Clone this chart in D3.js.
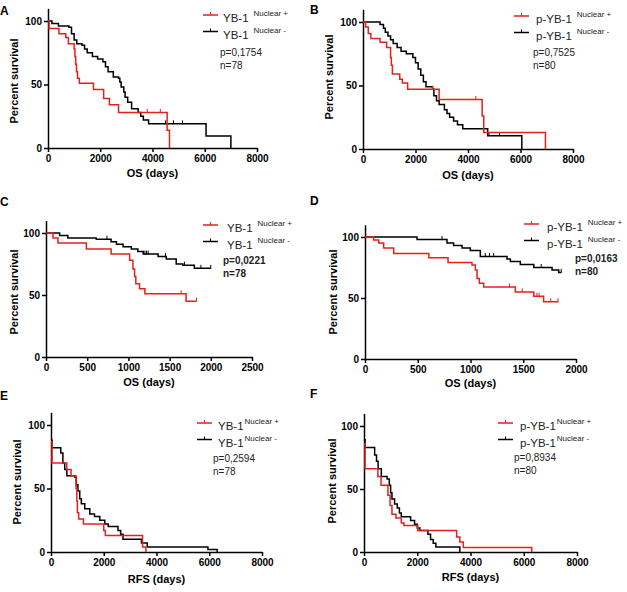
<!DOCTYPE html>
<html>
<head>
<meta charset="utf-8">
<script src="https://cdn.jsdelivr.net/npm/d3@7"></script>
<style>
body { margin: 0; background: #fff; }
svg { display: block; }
text { font-family: "Liberation Sans", Arial, sans-serif; }
</style>
</head>
<body>
<svg width="627" height="592"></svg>
<script>
// step data: [days, percent survival after the step]
var aPos = [[0,100],[40,94],[420,90],[680,87],[780,82],[1000,78],[1030,72],[1060,66],[1090,60],[1130,55],[1200,51],[1740,46],[2130,39],[2350,34],[2700,28],[4560,14],[4650,0]];
var aNeg = [[0,100],[150,98],[400,96],[800,95],[900,90],[1000,85],[1100,82],[1300,81],[1400,78],[1500,75],[1700,72],[1900,70],[2100,68],[2200,64],[2300,60],[2500,56],[2700,55],[2750,52],[2800,48],[2900,44],[2950,40],[3050,36],[3200,31],[3450,28],[3550,25],[3650,22],[3850,19],[6050,9.5],[7000,0]];
var aPosCens = [3800, 4300];
var aNegCens = [4500, 4800, 5150];

var bPos = [[0,100],[100,96],[200,91],[300,87],[650,84],[900,80],[1050,72],[1080,66],[1120,59],[1400,55],[1500,52],[1700,47],[2900,39],[4540,26],[4600,13],[6950,0]];
var bNeg = [[0,100],[650,98],[780,95],[850,92],[950,89],[1050,86],[1150,83],[1300,80],[1450,77],[1650,75],[1900,72],[2000,68],[2100,63],[2200,58],[2300,53],[2400,49],[2650,47],[2700,42],[2800,38],[2900,35],[3100,31],[3200,28],[3300,25],[3450,22],[3600,19],[3800,16],[4750,10.5],[6050,0]];
var bPosCens = [2650, 4300];
var bNegCens = [4800, 5200];

var cPos = [[0,100],[85,96],[145,92],[490,87],[790,83],[1015,78],[1055,71],[1075,65],[1090,59],[1135,55],[1200,51],[1700,45],[1826,45]];
var cNeg = [[0,100],[165,98],[265,96],[610,95],[790,93],[855,91],[935,89],[1035,87],[1115,85],[1180,83],[1360,81],[1460,79],[1580,75],[1660,74],[1800,71.5],[2000,71.5]];
var cPosCens = [1640, 1826];
var cNegCens = [740, 1200, 1220, 1240, 1450, 1680, 1880, 2000];

var dPos = [[0,100],[82,97.5],[130,95],[177,91],[272,86.5],[605,83],[787,79],[1014,77],[1046,73],[1062,66],[1084,62],[1125,59],[1425,55],[1600,51.5],[1693,47],[1830,47]];
var dNeg = [[0,100],[493,98],[777,95],[840,93],[920,91],[998,89],[1093,84],[1346,82],[1378,80],[1472,77.5],[1600,75],[1773,73],[1836,71],[1860,71]];
var dPosCens = [1370, 1490, 1630, 1650, 1760, 1830];
var dNegCens = [730, 1140, 1180, 1220, 1670, 1860];

var ePos = [[0,87],[40,70],[600,65],[760,60],[950,50],[980,40],[1000,31],[1050,26],[1230,22],[2000,17],[2060,13],[3470,4],[3600,0]];
var eNeg = [[0,88],[40,82],[370,78],[450,70],[520,65],[600,60],[900,59],[960,53],[1020,48],[1090,42],[1150,38],[1280,34],[1470,30],[1650,28],[1850,25],[2040,22],[2170,20],[2540,17],[2640,14],[2730,10],[3430,7],[3650,4],[5950,2],[6300,0]];

var fPos = [[0,86],[40,66],[520,60],[640,53],[900,45],[980,37],[1050,30],[1200,27],[1400,23],[1500,21],[2020,17],[3480,12],[3600,8],[3730,3.5],[6300,0]];
var fNeg = [[0,89],[40,83],[400,77],[470,72],[530,66],[650,60],[870,58],[950,53],[1000,47],[1050,42],[1150,38],[1250,35],[1330,31],[1400,28],[1750,25],[1900,22],[2000,19],[2100,17],[2400,14],[2500,10],[2600,7],[2700,4],[3600,0]];

var ticksLong = [0, 2000, 4000, 6000, 8000];
var ticksC = [0, 500, 1000, 1500, 2000, 2500];
var ticksD = [0, 500, 1000, 1500, 2000];
var yTicks = [0, 50, 100];

var RED = '#e3211c';
var svg = d3.select('svg');

var panels = [
  {id:'A', pos:aPos, neg:aNeg, pc:aPosCens, nc:aNegCens, xt:ticksLong, xr:[48,257], y0:148, y100:21,
   title:'OS (days)', tY:177, yt:[18,81], mk:'YB-1', p:'p=0,1754', n:'n=78', bold:false,
   lx:203, ly:15, tx:223, gap:5, px:220, py:56, let:[0,15]},
  {id:'B', pos:bPos, neg:bNeg, pc:bPosCens, nc:bNegCens, xt:ticksLong, xr:[363,573], y0:149, y100:22,
   title:'OS (days)', tY:179, yt:[333,77], mk:'p-YB-1', p:'p=0,7525', n:'n=80', bold:false,
   lx:514, ly:16, tx:536, gap:5, px:533, py:56, let:[310,14]},
  {id:'C', pos:cPos, neg:cNeg, pc:cPosCens, nc:cNegCens, xt:ticksC, xr:[46,252], y0:357, y100:233,
   title:'OS (days)', tY:386, yt:[18,292], mk:'YB-1', p:'p=0,0221', n:'n=78', bold:true,
   lx:203, ly:225, tx:227, gap:5, px:223, py:264, let:[0,206]},
  {id:'D', pos:dPos, neg:dNeg, pc:dPosCens, nc:dNegCens, xt:ticksD, xr:[365,576], y0:359, y100:237,
   title:'OS (days)', tY:387, yt:[337,292], mk:'p-YB-1', p:'p=0,0163', n:'n=80', bold:true,
   lx:524, ly:224, tx:547, gap:5, px:575, py:262, let:[310,205]},
  {id:'E', pos:ePos, neg:eNeg, pc:[], nc:[], xt:ticksLong, xr:[51,262], y0:552, y100:425,
   title:'RFS (days)', tY:583, yt:[21,482], mk:'YB-1', p:'p=0,2594', n:'n=78', bold:false,
   lx:197, ly:423, tx:218, gap:1, px:213, py:462, let:[0,400]},
  {id:'F', pos:fPos, neg:fNeg, pc:[], nc:[], xt:ticksLong, xr:[364,577], y0:552, y100:426,
   title:'RFS (days)', tY:581, yt:[336,481], mk:'p-YB-1', p:'p=0,8934', n:'n=80', bold:false,
   lx:498, ly:423, tx:520, gap:1, px:514, py:461, let:[310,398]}
];

function survAt(data, t) {
  var i = d3.bisector(function(d) { return d[0]; }).right(data, t) - 1;
  return data[Math.max(i, 0)][1];
}

panels.forEach(function(P) {
  var xMax = P.xt[P.xt.length - 1];
  var x = d3.scaleLinear().domain([0, xMax]).range(P.xr);
  var y = d3.scaleLinear().domain([0, 100]).range([P.y0, P.y100]);
  var yTop = y(110);
  var g = svg.append('g');

  // axes
  var xa = g.append('g')
    .attr('transform', 'translate(0,' + P.y0 + ')')
    .call(d3.axisBottom(x).tickValues(P.xt).tickSize(4).tickSizeOuter(0).tickFormat(d3.format('d')));
  var ya = g.append('g')
    .attr('transform', 'translate(' + P.xr[0] + ',0)')
    .call(d3.axisLeft(d3.scaleLinear().domain([0, 110]).range([P.y0, yTop]))
      .tickValues(yTicks).tickSize(4).tickSizeOuter(0).tickPadding(2));
  [xa, ya].forEach(function(a) {
    a.selectAll('path, line').attr('stroke', '#000').attr('stroke-width', 1.5);
    a.selectAll('text').attr('fill', '#000').style('font-size', '10px').style('font-weight', 'bold')
      .style('font-family', '"Liberation Sans", Arial, sans-serif');
  });

  var line = d3.line()
    .x(function(d) { return x(d[0]); })
    .y(function(d) { return y(d[1]); })
    .curve(d3.curveStepAfter);

  [[P.neg, P.nc, '#000'], [P.pos, P.pc, RED]].forEach(function(s) {
    g.append('path').datum(s[0])
      .attr('d', line)
      .attr('fill', 'none')
      .attr('stroke', s[2])
      .attr('stroke-width', 1.5);
    g.selectAll(null).data(s[1]).enter().append('line')
      .attr('x1', function(t) { return x(t); })
      .attr('x2', function(t) { return x(t); })
      .attr('y1', function(t) { return y(survAt(s[0], t)) - 3.5; })
      .attr('y2', function(t) { return y(survAt(s[0], t)) + 0.5; })
      .attr('stroke', s[2])
      .attr('stroke-width', 1);
  });

  // titles
  g.append('text').text(P.title)
    .attr('x', (P.xr[0] + P.xr[1]) / 2).attr('y', P.tY)
    .attr('text-anchor', 'middle')
    .style('font-size', '11px').style('font-weight', 'bold');
  g.append('text').text('Percent survival')
    .attr('transform', 'translate(' + P.yt[0] + ',' + P.yt[1] + ')rotate(-90)')
    .attr('text-anchor', 'middle')
    .style('font-size', '11px').style('font-weight', 'bold');
  g.append('text').text(P.id)
    .attr('x', P.let[0]).attr('y', P.let[1])
    .style('font-size', '12px').style('font-weight', 'bold');

  // legend
  [['Nuclear +', RED, 0], ['Nuclear -', '#000', 16.5]].forEach(function(l) {
    var ly = P.ly + l[2];
    g.append('line').attr('x1', P.lx).attr('x2', P.lx + 15)
      .attr('y1', ly).attr('y2', ly).attr('stroke', l[1]).attr('stroke-width', 1.5);
    g.append('line').attr('x1', P.lx + 7.5).attr('x2', P.lx + 7.5)
      .attr('y1', ly - 3).attr('y2', ly).attr('stroke', l[1]).attr('stroke-width', 1);
    var main = g.append('text').text(P.mk)
      .attr('x', P.tx).attr('y', ly + 7)
      .attr('fill', '#222')
      .style('font-size', '11.5px');
    var w = main.node().getComputedTextLength();
    g.append('text').text(l[0])
      .attr('x', P.tx + w + P.gap).attr('y', ly + 1)
      .attr('fill', '#222')
      .style('font-size', '8px');
  });
  [P.p, P.n].forEach(function(t, i) {
    g.append('text').text(t)
      .attr('x', P.px).attr('y', P.py + i * 12.5)
      .attr('fill', '#222')
      .style('font-size', '10px')
      .style('font-weight', P.bold ? 'bold' : 'normal');
  });
});
</script>
</body>
</html>
